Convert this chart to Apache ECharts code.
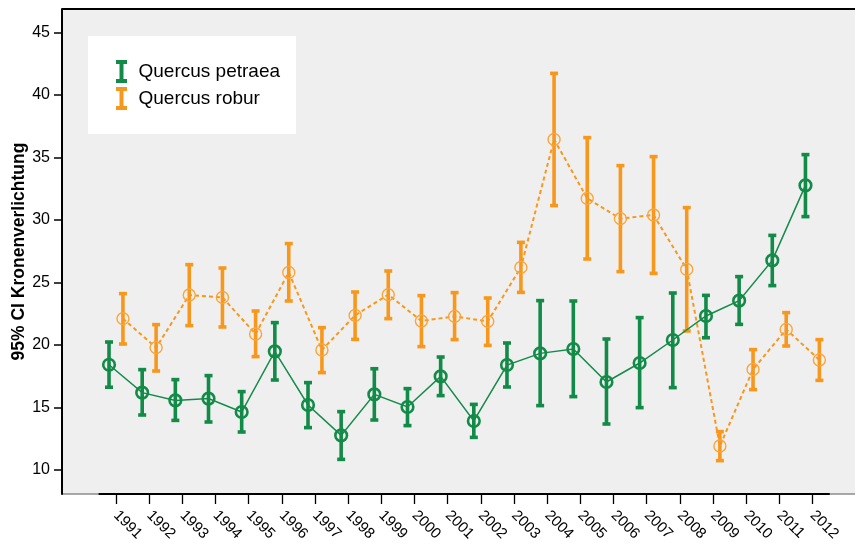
<!DOCTYPE html>
<html>
<head>
<meta charset="utf-8">
<script src="https://cdn.jsdelivr.net/npm/echarts@6/dist/echarts.min.js"></script>
<style>
  html, body { margin: 0; padding: 0; background: #ffffff; }
  #chart { width: 855px; height: 544px; }
</style>
</head>
<body>
<div id="chart"></div>
<script>
// Crown defoliation (Kronenverlichtung): yearly means with 95% confidence intervals
const years = ['1991', '1992', '1993', '1994', '1995', '1996', '1997', '1998', '1999', '2000', '2001',
  '2002', '2003', '2004', '2005', '2006', '2007', '2008', '2009', '2010', '2011', '2012'];

const petraeaMean = [18.42, 16.19, 15.57, 15.71, 14.64, 19.49, 15.2, 12.77, 16.05, 15.04, 17.49,
  13.92, 18.4, 19.33, 19.68, 17.04, 18.56, 20.4, 22.32, 23.55, 26.77, 32.77];
const petraeaLow = [16.62, 14.4, 13.97, 13.84, 13.04, 17.2, 13.39, 10.85, 14.0, 13.55, 15.95,
  12.61, 16.64, 15.15, 15.87, 13.68, 14.99, 16.59, 20.58, 21.65, 24.75, 30.27];
const petraeaHigh = [20.24, 18.03, 17.23, 17.55, 16.27, 21.79, 16.99, 14.67, 18.1, 16.51, 19.04,
  15.25, 20.16, 23.55, 23.52, 20.48, 22.19, 24.16, 23.97, 25.47, 28.77, 35.23];

const roburMean = [22.11, 19.79, 24.0, 23.81, 20.88, 25.81, 19.6, 22.37, 24.03, 21.92, 22.29,
  21.89, 26.21, 36.45, 31.73, 30.11, 30.4, 26.05, 11.92, 18.05, 21.25, 18.8];
const roburLow = [20.08, 17.92, 21.55, 21.44, 19.07, 23.52, 17.79, 20.45, 22.11, 19.87, 20.43,
  19.97, 24.21, 31.15, 26.88, 25.87, 25.73, 21.12, 10.75, 16.43, 19.92, 17.17];
const roburHigh = [24.11, 21.63, 26.43, 26.16, 22.72, 28.11, 21.39, 24.24, 25.92, 23.95, 24.19,
  23.76, 28.21, 41.73, 36.59, 34.35, 35.07, 30.99, 13.07, 19.63, 22.59, 20.43];

const yTicks = [10, 15, 20, 25, 30, 35, 40, 45];

const GREEN = '#138b48';
const ORANGE = '#f7981d';
const FONT = 'Arial, "Liberation Sans", sans-serif';

// I-beam glyph used as legend key
const ERRBAR_ICON = 'path://M0,0H11V4H7.5V19H11V23H0V19H3.5V4H0Z';

// Draws the connecting line (once), then each CI bar with caps and a hollow marker.
function makeRenderer(means, style) {
  return function (params, api) {
    const i = api.value(0);
    const band = api.size([1, 0])[0];
    const dx = style.shift * band;
    const c = api.coord([i, api.value(1)]);
    const lo = api.coord([i, api.value(2)]);
    const hi = api.coord([i, api.value(3)]);
    const x = c[0] + dx;
    const children = [];

    if (params.dataIndex === 0) {
      const pts = means.map(function (v, k) {
        const p = api.coord([k, v]);
        return [p[0] + dx, p[1]];
      });
      children.push({
        type: 'polyline',
        shape: { points: pts },
        style: {
          fill: null,
          stroke: style.color,
          lineWidth: style.lineWidth,
          lineDash: style.lineDash
        },
        z2: 0
      });
    }

    const capW = 4;
    const capT = 3.6;
    children.push({
      type: 'line',
      shape: { x1: x, y1: hi[1], x2: x, y2: lo[1] },
      style: { stroke: style.color, lineWidth: 3.6 },
      z2: 1
    });
    children.push({
      type: 'rect',
      shape: { x: x - capW, y: hi[1] - capT / 2, width: capW * 2, height: capT },
      style: { fill: style.color },
      z2: 1
    });
    children.push({
      type: 'rect',
      shape: { x: x - capW, y: lo[1] - capT / 2, width: capW * 2, height: capT },
      style: { fill: style.color },
      z2: 1
    });
    children.push({
      type: 'circle',
      shape: { cx: x, cy: c[1], r: style.r },
      style: { fill: null, stroke: style.markerColor, lineWidth: style.markerWidth },
      z2: 2
    });
    return { type: 'group', children: children };
  };
}

function rows(mean, low, high) {
  return years.map(function (y, i) { return [i, mean[i], low[i], high[i]]; });
}

const chart = echarts.init(document.getElementById('chart'), null, { renderer: 'canvas' });

const option = {
  animation: false,
  backgroundColor: '#ffffff',
  textStyle: { fontFamily: FONT },
  grid: { left: 99.4, right: 26, top: 9, bottom: 50, containLabel: false, outerBoundsMode: 'none' },
  graphic: [
    { type: 'rect', z: -10, shape: { x: 62, y: 9, width: 793, height: 485 }, style: { fill: '#efefef' } },
    { type: 'line', z: -9, shape: { x1: 62, y1: 494, x2: 855, y2: 494 }, style: { stroke: '#8c8c8c', lineWidth: 1.5 } },
    { type: 'line', z: 5, shape: { x1: 62, y1: 9, x2: 855, y2: 9 }, style: { stroke: '#000000', lineWidth: 2 } },
    { type: 'rect', z: 3, shape: { x: 88, y: 36, width: 208, height: 98 }, style: { fill: '#ffffff' } }
  ],
  legend: {
    orient: 'vertical',
    left: 116,
    top: 60,
    padding: 0,
    itemWidth: 24,
    itemHeight: 23,
    itemGap: 4,
    z: 6,
    textStyle: { fontSize: 19, color: '#000000', fontFamily: FONT },
    data: [
      { name: 'Quercus petraea', icon: ERRBAR_ICON, itemStyle: { color: GREEN } },
      { name: 'Quercus robur', icon: ERRBAR_ICON, itemStyle: { color: ORANGE } }
    ]
  },
  xAxis: {
    type: 'category',
    data: years,
    boundaryGap: true,
    axisLine: { show: true, lineStyle: { color: '#000000', width: 2 } },
    axisTick: { show: true, alignWithLabel: true, length: 10, lineStyle: { color: '#000000', width: 1.3 } },
    axisLabel: { rotate: -45, margin: 19, fontSize: 15, color: '#000000', fontFamily: FONT, interval: 0 },
    splitLine: { show: false }
  },
  yAxis: {
    type: 'value',
    min: 8.08,
    max: 46.88,
    offset: 37.4,
    name: '95% CI Kronenverlichtung',
    nameLocation: 'middle',
    nameGap: 34,
    nameMoveOverlap: false,
    nameTextStyle: { fontSize: 17.5, fontWeight: 'bold', color: '#000000', fontFamily: FONT },
    axisLine: { show: true, lineStyle: { color: '#000000', width: 2 } },
    axisTick: { show: true, length: 8, customValues: yTicks, lineStyle: { color: '#000000', width: 1.5 } },
    axisLabel: { customValues: yTicks, fontSize: 16, margin: 12, color: '#000000', fontFamily: FONT },
    splitLine: { show: false }
  },
  series: [
    {
      name: 'Quercus robur',
      type: 'custom',
      itemStyle: { color: ORANGE },
      renderItem: makeRenderer(roburMean, {
        shift: 0.21, color: ORANGE, markerColor: '#f9a53c', markerWidth: 1.4, r: 6,
        lineWidth: 2, lineDash: [4, 3]
      }),
      encode: { x: 0, y: [1, 2, 3] },
      data: rows(roburMean, roburLow, roburHigh),
      z: 2
    },
    {
      name: 'Quercus petraea',
      type: 'custom',
      itemStyle: { color: GREEN },
      renderItem: makeRenderer(petraeaMean, {
        shift: -0.21, color: GREEN, markerColor: GREEN, markerWidth: 2.6, r: 5.8,
        lineWidth: 1.5, lineDash: null
      }),
      encode: { x: 0, y: [1, 2, 3] },
      data: rows(petraeaMean, petraeaLow, petraeaHigh),
      z: 3
    }
  ]
};

chart.setOption(option);
</script>
</body>
</html>
